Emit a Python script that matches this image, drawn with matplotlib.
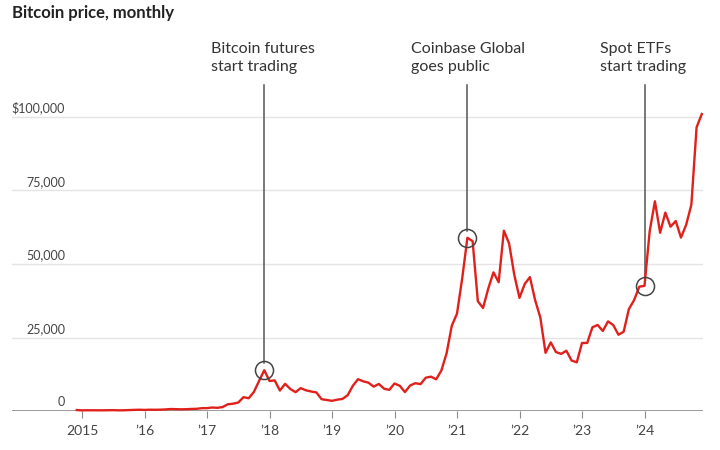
import numpy as np
import matplotlib
matplotlib.use('Agg')
from matplotlib import pyplot as plt

# Monthly closes, Dec 2014 through Dec 2024 (USD)
prices = [
    320,
    217, 254, 244, 236, 230, 263, 284, 230, 236, 314, 377, 430,
    368, 437, 416, 448, 531, 673, 624, 573, 609, 698, 742, 964,
    970, 1190, 1080, 1348, 2286, 2480, 2875, 4703, 4338, 6468, 10233, 13860,
    10221, 10397, 6973, 9240, 7495, 6404, 7780, 7037, 6625, 6318, 4017, 3742,
    3457, 3854, 4105, 5350, 8574, 10817, 10085, 9630, 8293, 9199, 7569, 7194,
    9350, 8599, 6438, 8658, 9461, 9137, 11323, 11680, 10784, 13781, 19625, 29002,
    33114, 45137, 58918, 57750, 37332, 35040, 41626, 47166, 43791, 61318, 57005, 46306,
    38483, 43193, 45538, 37714, 31792, 19785, 23336, 20050, 19431, 20495, 17168, 16548,
    23139, 23147, 28478, 29268, 27219, 30477, 29230, 25931, 26968, 34667, 37713, 42265,
    42582, 61198, 71333, 60637, 67491, 62678, 64626, 58970, 63329, 70215, 96500, 101000,
]
years = 2014 + 11 / 12 + np.arange(len(prices)) / 12

tick_years = list(range(2015, 2025))
tick_labels = ['2015', '\u201916', '\u201917', '\u201918', '\u201919',
               '\u201920', '\u201921', '\u201922', '\u201923', '\u201924']
y_ticks = [0, 25000, 50000, 75000, 100000]
y_labels = ['0', '25,000', '50,000', '75,000', '$100,000']

events = ['Bitcoin futures\nstart trading', 'Coinbase Global\ngoes public',
          'Spot ETFs\nstart trading']
event_idx = [36, 75, 109]          # Dec 2017, Mar 2021, Jan 2024
event_text_x = [2017.064, 2020.264, 2023.288]

plt.rcParams['font.family'] = ['Lato', 'DejaVu Sans']

fig = plt.figure(figsize=(7.2, 4.5), dpi=100)
ax = fig.add_axes([12 / 720, 39 / 450, 691 / 720, 381 / 450])

ymax = 100000 * 381 / 294
ax.set_xlim(2015 + (12 - 82) / 62.5, 2015 + (703 - 82) / 62.5)
ax.set_ylim(0, ymax)

for v in y_ticks[1:]:
    ax.axhline(v, color='#e4e4e4', lw=1, zorder=1)
ax.axhline(0, color='#8a8a8a', lw=1.2, zorder=2)

ax.plot(years, prices, color='#e0201b', lw=1.7, zorder=4, clip_on=False)

for label, idx, tx in zip(events, event_idx, event_text_x):
    ex, ey = years[idx], prices[idx]
    ax.plot([ex, ex], [ey + 2300, 110800], color='#555555', lw=1.1, zorder=3)
    ax.plot(ex, ey, marker='o', ms=13, mfc='none', mec='#444444', mew=1.1, zorder=5)
    ax.text(tx, 125600, label, fontsize=11.5, color='#333333', va='top', ha='left',
            linespacing=1.4)

for v, lab in zip(y_ticks, y_labels):
    ax.annotate(lab, (2015 + (65 - 82) / 62.5, v), xytext=(0, 2), textcoords='offset points',
                ha='right', va='bottom', fontsize=9, color='#444444')

ax.set_xticks(tick_years)
ax.set_xticklabels(tick_labels)
ax.tick_params(axis='x', length=5, color='#8a8a8a', labelsize=10, labelcolor='#444444', pad=5)
ax.set_yticks([])
for s in ax.spines.values():
    s.set_visible(False)

fig.text(12 / 720, 1 - 13 / 450, 'Bitcoin price, monthly', fontsize=12, fontweight='bold',
         color='#222222', va='center', ha='left')

fig.savefig('out.png', dpi=100)
